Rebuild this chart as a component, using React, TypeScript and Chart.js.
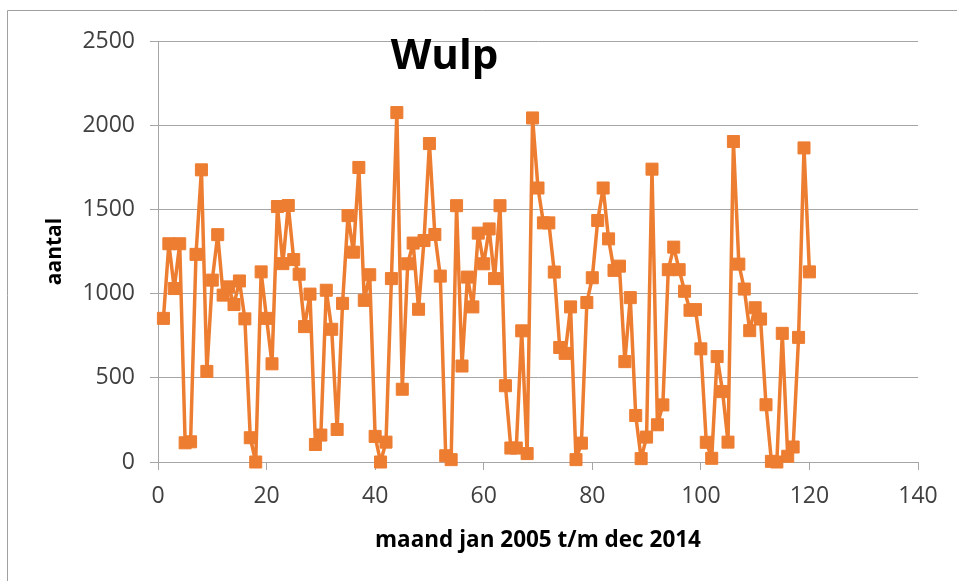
import React, { useEffect, useRef } from "react";
import { Chart, registerables } from "chart.js";

Chart.register(...registerables);

const TITLE = "Wulp";
const X_TITLE = "maand jan 2005 t/m dec 2014";
const Y_TITLE = "aantal";

const months = [
  1, 2, 3, 4, 5, 6, 7, 8, 9, 10, 11, 12, 13, 14, 15, 16, 17, 18, 19, 20,
  21, 22, 23, 24, 25, 26, 27, 28, 29, 30, 31, 32, 33, 34, 35, 36, 37, 38, 39, 40,
  41, 42, 43, 44, 45, 46, 47, 48, 49, 50, 51, 52, 53, 54, 55, 56, 57, 58, 59, 60,
  61, 62, 63, 64, 65, 66, 67, 68, 69, 70, 71, 72, 73, 74, 75, 76, 77, 78, 79, 80,
  81, 82, 83, 84, 85, 86, 87, 88, 89, 90, 91, 92, 93, 94, 95, 96, 97, 98, 99, 100,
  101, 102, 103, 104, 105, 106, 107, 108, 109, 110, 111, 112, 113, 114, 115, 116, 117, 118, 119, 120,
];

const counts = [
  853, 1296, 1030, 1296, 114, 120, 1233, 1735, 538, 1080,
  1350, 991, 1040, 935, 1075, 850, 144, 0, 1129, 853,
  583, 1517, 1178, 1523, 1202, 1115, 804, 997, 104, 160,
  1020, 788, 193, 942, 1463, 1246, 1749, 960, 1112, 152,
  0, 118, 1089, 2075, 432, 1177, 1300, 907, 1315, 1891,
  1351, 1104, 37, 14, 1522, 570, 1098, 921, 1359, 1177,
  1384, 1089, 1522, 453, 83, 83, 779, 50, 2043, 1627,
  1420, 1420, 1128, 680, 645, 921, 14, 112, 947, 1094,
  1434, 1627, 1325, 1138, 1163, 596, 976, 276, 20, 148,
  1739, 221, 339, 1142, 1276, 1142, 1014, 901, 905, 672,
  117, 22, 626, 418, 118, 1903, 1175, 1027, 780, 916,
  849, 340, 4, 0, 764, 34, 89, 740, 1865, 1129,
];

const X_MIN = 0;
const X_MAX = 140;
const X_STEP = 20;
const Y_MIN = 0;
const Y_MAX = 2500;
const Y_STEP = 500;

const ORANGE = "#ED7D31";
const GRID = "#a6a6a6";
const FONT = "'Open Sans', 'DejaVu Sans', sans-serif";

export default function App() {
  const ref = useRef<HTMLCanvasElement | null>(null);

  useEffect(() => {
    if (!ref.current) return;
    const frame = {
      id: "frameAndTitle",
      beforeDraw(chart: any) {
        const ctx = chart.ctx;
        ctx.save();
        ctx.strokeStyle = "#a0a0a0";
        ctx.lineWidth = 1;
        ctx.beginPath();
        ctx.moveTo(7.5, chart.height);
        ctx.lineTo(7.5, 10.5);
        ctx.lineTo(chart.width, 10.5);
        ctx.stroke();
        ctx.restore();
      },
      afterDatasetsDraw(chart: any) {
        const ctx = chart.ctx;
        const ca = chart.chartArea;
        ctx.save();
        ctx.fillStyle = "#000";
        ctx.font = `bold 42px ${FONT}`;
        ctx.textAlign = "center";
        ctx.textBaseline = "alphabetic";
        ctx.fillText(TITLE, ca.left + (ca.right - ca.left) * 0.377, ca.top + 28);
        ctx.restore();
      },
    };

    const chart = new Chart(ref.current, {
      type: "line",
      data: {
        datasets: [
          {
            data: months.map((m, i) => ({ x: m, y: counts[i] })),
            borderColor: ORANGE,
            backgroundColor: ORANGE,
            borderWidth: 3.5,
            borderJoinStyle: "round",
            pointStyle: "rect",
            pointRadius: 8.5,
            pointBorderWidth: 1,
            pointBackgroundColor: ORANGE,
            pointBorderColor: ORANGE,
            tension: 0,
            clip: false as any,
          },
        ],
      },
      options: {
        animation: false,
        responsive: false,
        devicePixelRatio: 1,
        layout: { padding: { left: 0, right: 39, top: 41, bottom: 0 } },
        plugins: {
          legend: { display: false },
          tooltip: { enabled: false },
          title: { display: false },
        },
        scales: {
          x: {
            type: "linear",
            min: X_MIN,
            max: X_MAX,
            afterFit(scale: any) {
              scale.height = 119;
            },
            ticks: {
              stepSize: X_STEP,
              color: "#404040",
              font: { family: FONT, size: 23 },
              padding: 13,
              maxRotation: 0,
              callback: (v: any) => String(v),
            },
            grid: {
              drawOnChartArea: false,
              drawTicks: true,
              tickLength: 8,
              color: GRID,
            },
            border: { display: true, color: GRID, width: 1 },
            title: {
              display: true,
              text: X_TITLE,
              color: "#000",
              font: { family: FONT, size: 22.5, weight: "bold" },
              padding: { top: 0, bottom: 26.5 },
            },
          },
          y: {
            type: "linear",
            min: Y_MIN,
            max: Y_MAX,
            afterFit(scale: any) {
              scale.width = 158;
            },
            ticks: {
              stepSize: Y_STEP,
              color: "#404040",
              font: { family: FONT, size: 23 },
              padding: 15,
              callback: (v: any) => String(v),
            },
            grid: {
              color: GRID,
              drawTicks: true,
              tickLength: 8,
            },
            border: { display: true, color: GRID, width: 1 },
            title: {
              display: true,
              text: Y_TITLE,
              color: "#000",
              font: { family: FONT, size: 21, weight: "bold" },
              padding: { top: 42.4, bottom: 0 },
            },
          },
        },
      },
      plugins: [frame],
    });
    return () => chart.destroy();
  }, []);

  return (
    <div style={{ position: "fixed", left: 0, top: 0, width: 957, height: 581, background: "#fff" }}>
      <canvas ref={ref} width={957} height={581} style={{ display: "block", width: 957, height: 581 }} />
    </div>
  );
}
